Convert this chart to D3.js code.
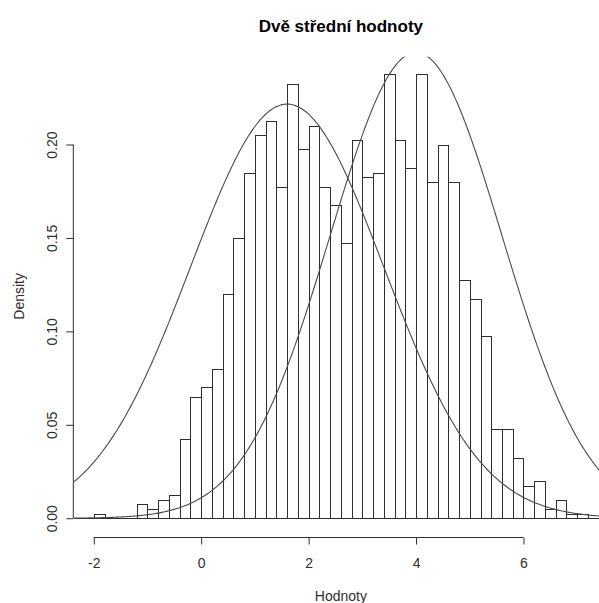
<!DOCTYPE html>
<html>
<head>
<meta charset="utf-8">
<script src="https://cdn.jsdelivr.net/npm/d3@7/dist/d3.min.js"></script>
<style>
  html, body { margin: 0; padding: 0; background: #fff; }
  svg { display: block; font-family: "Liberation Sans", Arial, Helvetica, sans-serif; }
</style>
</head>
<body>
<svg id="chart" width="599" height="603"></svg>
<script>
// Histogram bins (width 0.2) and their densities
const binEdges = [-2.0, -1.8, -1.6, -1.4, -1.2, -1.0, -0.8, -0.6, -0.4, -0.2,
                  0.0, 0.2, 0.4, 0.6, 0.8, 1.0, 1.2, 1.4, 1.6, 1.8,
                  2.0, 2.2, 2.4, 2.6, 2.8, 3.0, 3.2, 3.4, 3.6, 3.8,
                  4.0, 4.2, 4.4, 4.6, 4.8, 5.0, 5.2, 5.4, 5.6, 5.8,
                  6.0, 6.2, 6.4, 6.6, 6.8, 7.0, 7.2];
const densities = [0.0025, 0, 0, 0, 0.0075, 0.005, 0.01, 0.0125, 0.0425, 0.065,
                   0.07, 0.08, 0.12, 0.15, 0.185, 0.205, 0.2125, 0.1775, 0.2325, 0.1975,
                   0.21, 0.1775, 0.1675, 0.1475, 0.2025, 0.1825, 0.185, 0.2375, 0.2025, 0.1875,
                   0.2375, 0.18, 0.2, 0.18, 0.1275, 0.1175, 0.0975, 0.0475, 0.0475, 0.0325,
                   0.0175, 0.02, 0.005, 0.01, 0.0025, 0.0025];

// Two fitted normal densities drawn over the histogram
const curveMeans = [1.6, 4.0];
const curveSds = [1.8, 1.6];

// Axis ticks
const xTicks = [-2, 0, 2, 4, 6];
const xTickLabels = ["-2", "0", "2", "4", "6"];
const yTicks = [0, 0.05, 0.10, 0.15, 0.20];
const yTickLabels = ["0.00", "0.05", "0.10", "0.15", "0.20"];

const titleText = "Dvě střední hodnoty";
const xLabel = "Hodnoty";
const yLabel = "Density";

// Plot region
const plot = { left: 74, right: 607.7, top: 56.7, bottom: 536 };

const svg = d3.select("#chart");

const x = d3.scaleLinear().domain([-2.368, 7.568]).range([plot.left, plot.right]);
const y = d3.scaleLinear().domain([-0.0095, 0.247]).range([plot.bottom, plot.top]);

svg.append("defs").append("clipPath").attr("id", "plotClip")
  .append("rect")
  .attr("x", plot.left).attr("y", plot.top)
  .attr("width", plot.right - plot.left).attr("height", plot.bottom - plot.top);

const ink = "#2e2e2e";

// Zero line across the plot
svg.append("line")
  .attr("x1", plot.left).attr("x2", plot.right)
  .attr("y1", Math.round(y(0)) + 0.5).attr("y2", Math.round(y(0)) + 0.5)
  .attr("stroke", ink).attr("stroke-width", 1);

// Histogram bars
const bins = densities.map((d, i) => ({ x0: binEdges[i], x1: binEdges[i + 1], d }));
svg.append("g")
  .selectAll("rect")
  .data(bins)
  .join("rect")
  .attr("x", b => Math.round(x(b.x0)) + 0.5)
  .attr("width", b => Math.round(x(b.x1)) - Math.round(x(b.x0)))
  .attr("y", b => Math.round(y(b.d)) + 0.5)
  .attr("height", b => Math.round(y(0)) - Math.round(y(b.d)))
  .attr("fill", "#fff")
  .attr("stroke", ink)
  .attr("stroke-width", 1);

// Normal density curves
const xs = d3.range(0, 401).map(i => x.domain()[0] + (x.domain()[1] - x.domain()[0]) * i / 400);
const dnorm = (v, m, s) => Math.exp(-0.5 * ((v - m) / s) ** 2) / (s * Math.sqrt(2 * Math.PI));
const line = d3.line().x(p => x(p[0])).y(p => y(p[1]));
const curves = svg.append("g").attr("clip-path", "url(#plotClip)");
curveMeans.forEach((m, k) => {
  curves.append("path")
    .attr("d", line(xs.map(v => [v, dnorm(v, m, curveSds[k])])))
    .attr("fill", "none")
    .attr("stroke", "#4a4a4a")
    .attr("stroke-width", 1.1);
});

// X axis
const xAxisY = plot.bottom + 1.5;
const gx = svg.append("g")
  .attr("transform", `translate(0,${xAxisY})`)
  .call(d3.axisBottom(x).tickValues(xTicks)
    .tickFormat((d, i) => xTickLabels[i])
    .tickSize(7).tickPadding(14).tickSizeOuter(0));
gx.select(".domain").remove();
gx.append("line")
  .attr("x1", x(xTicks[0])).attr("x2", x(xTicks[xTicks.length - 1]))
  .attr("y1", 0).attr("y2", 0)
  .attr("stroke", ink);
gx.selectAll(".tick line").attr("stroke", ink);
gx.selectAll(".tick text")
  .attr("fill", ink)
  .style("font-size", "14px")
  .style("font-family", "Liberation Sans, Arial, sans-serif");

// Y axis
const yAxisX = plot.left - 0.7;
const gy = svg.append("g")
  .attr("transform", `translate(${yAxisX},0)`)
  .call(d3.axisLeft(y).tickValues(yTicks)
    .tickFormat((d, i) => yTickLabels[i])
    .tickSize(7).tickSizeOuter(0));
gy.select(".domain").remove();
gy.append("line")
  .attr("x1", 0).attr("x2", 0)
  .attr("y1", y(yTicks[0])).attr("y2", y(yTicks[yTicks.length - 1]))
  .attr("stroke", ink);
gy.selectAll(".tick line").attr("stroke", ink);
gy.selectAll(".tick text")
  .attr("x", null).attr("y", 0).attr("dy", "0.35em")
  .attr("transform", "translate(-21,0) rotate(-90)")
  .attr("text-anchor", "middle")
  .attr("fill", ink)
  .style("font-size", "14px")
  .style("font-family", "Liberation Sans, Arial, sans-serif");

const cx = (plot.left + plot.right) / 2;
const cy = (plot.top + plot.bottom) / 2;

// Title
svg.append("text")
  .attr("x", cx).attr("y", 32)
  .attr("text-anchor", "middle")
  .style("font-size", "17px")
  .style("font-weight", "bold")
  .attr("fill", "#000")
  .text(titleText);

// Axis labels
svg.append("text")
  .attr("x", cx).attr("y", 601)
  .attr("text-anchor", "middle")
  .style("font-size", "14px")
  .attr("fill", ink)
  .text(xLabel);

svg.append("text")
  .attr("transform", `translate(19,${cy}) rotate(-90)`)
  .attr("dy", "0.35em")
  .attr("text-anchor", "middle")
  .style("font-size", "14px")
  .attr("fill", ink)
  .text(yLabel);
</script>
</body>
</html>
